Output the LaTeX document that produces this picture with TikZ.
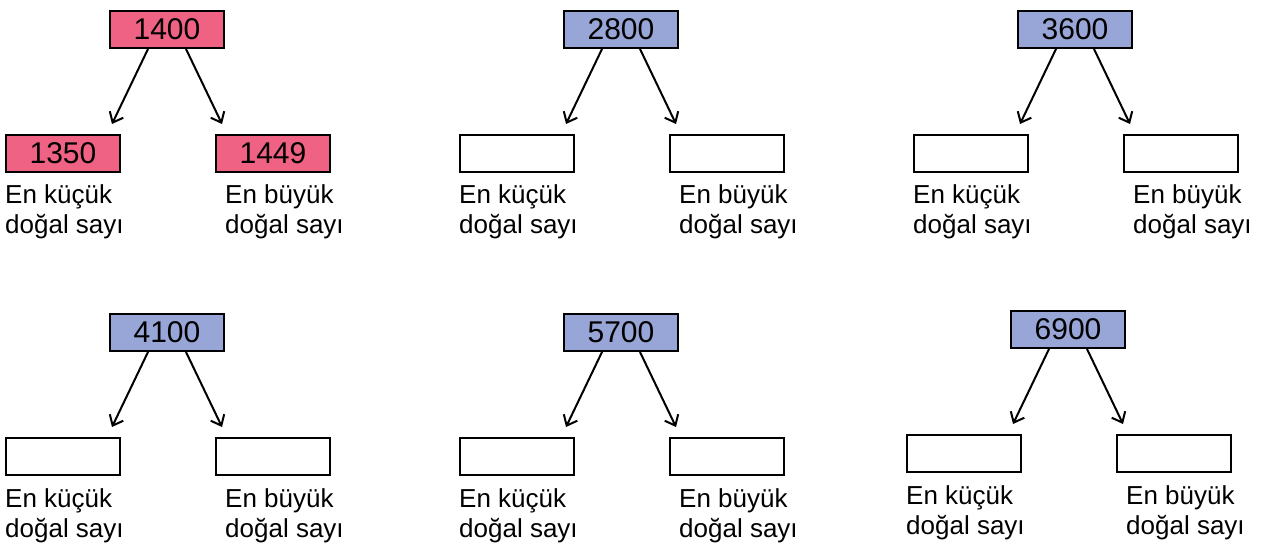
\documentclass[tikz,border=0pt]{standalone}
\usepackage{fontspec}
\setmainfont{Liberation Sans}
\usetikzlibrary{arrows.meta}
\definecolor{pinkfill}{RGB}{240,98,131}
\definecolor{bluefill}{RGB}{152,165,215}
\tikzset{
  numbox/.style={draw=black, line width=2pt, rectangle, minimum width=114pt, minimum height=37pt, inner sep=0pt, anchor=north west, font=\fontsize{30}{30}\selectfont},
  lbl/.style={anchor=base west, inner sep=0pt, font=\fontsize{26}{26}\selectfont},
  arr/.style={line width=2pt, -{Straight Barb[length=9pt,width=15pt,line width=2pt]}}
}
% #1 name, #2 x, #3 y, #4 top text, #5 top fill, #6 child fill, #7 left text, #8 right text
\newcommand\mygroup[8]{%
  \node[numbox, fill=#5] (#1t) at (#2pt,-#3pt) {#4};
  \node[numbox, fill=#6] (#1l) at (#2pt-104pt,-#3pt-124pt) {#7};
  \node[numbox, fill=#6] (#1r) at (#2pt+106pt,-#3pt-124pt) {#8};
  \coordinate (#1la) at (#2pt+3pt,-#3pt-114pt);
  \coordinate (#1ra) at (#2pt+113pt,-#3pt-114pt);
  \draw[arr] ([xshift=-19pt]#1t.south) -- (#1la);
  \draw[arr] ([xshift=19pt]#1t.south) -- (#1ra);
  \node[lbl] (#1l1) at (#2pt-104pt,-#3pt-194pt) {En küçük};
  \node[lbl] (#1l2) at (#2pt-104pt,-#3pt-224pt) {doğal sayı};
  \node[lbl] (#1r1) at (#2pt+116pt,-#3pt-194pt) {En büyük};
  \node[lbl] (#1r2) at (#2pt+116pt,-#3pt-224pt) {doğal sayı};
}
\begin{document}
\begin{tikzpicture}
\useasboundingbox (0,0) rectangle (1268pt,-545pt);
\mygroup{a}{109}{10}{1400}{pinkfill}{pinkfill}{1350}{1449}
\mygroup{b}{563}{10}{2800}{bluefill}{white}{}{}
\mygroup{c}{1017}{10}{3600}{bluefill}{white}{}{}
\mygroup{d}{109}{313}{4100}{bluefill}{white}{}{}
\mygroup{e}{563}{313}{5700}{bluefill}{white}{}{}
\mygroup{f}{1010}{310}{6900}{bluefill}{white}{}{}
\end{tikzpicture}
\end{document}
